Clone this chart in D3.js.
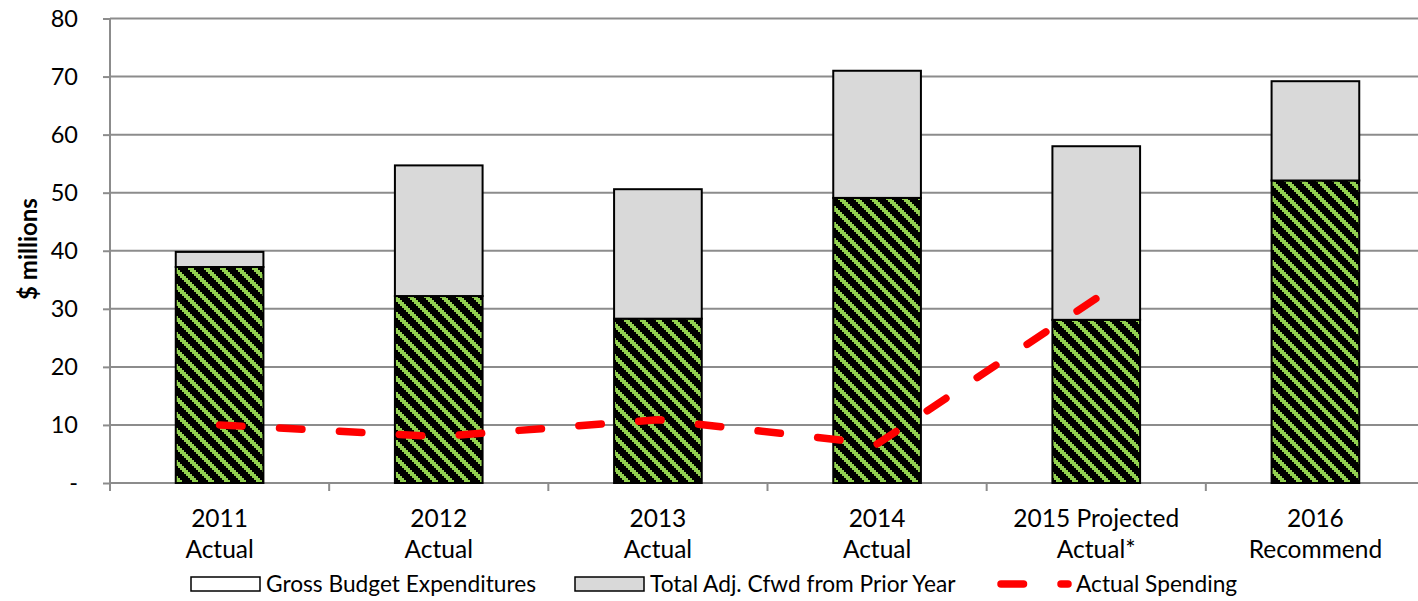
<!DOCTYPE html>
<html>
<head>
<meta charset="utf-8">
<script src="https://cdn.jsdelivr.net/npm/d3@7"></script>
<style>
  html, body { margin: 0; padding: 0; background: #fff; }
  svg { display: block; font-family: Lato, "Open Sans", sans-serif; }
</style>
</head>
<body>
<svg id="chart" width="1418" height="601"></svg>
<script>
// Fiscal years shown on the category axis (two lines each)
const yearLabels = ["2011", "2012", "2013", "2014", "2015 Projected", "2016"];
const yearSubLabels = ["Actual", "Actual", "Actual", "Actual", "Actual*", "Recommend"];
const categories = yearLabels.map((d, i) => d + " " + yearSubLabels[i]);

// $ millions
const grossBudget = [37.2, 32.2, 28.3, 49.1, 28.1, 52.1];
const carryForward = [2.6, 22.5, 22.3, 21.9, 29.9, 17.1];
const actualSpending = [10.0, 8.0, 10.9, 6.7, 31.8, null];

const yTicks = [0, 10, 20, 30, 40, 50, 60, 70, 80];
const seriesNames = ["Gross Budget Expenditures", "Total Adj. Cfwd from Prior Year", "Actual Spending"];

const svg = d3.select("#chart");
const plot = { left: 110, right: 1425, top: 18.5, bottom: 483 };

const x = d3.scaleBand()
  .domain(categories)
  .range([plot.left, plot.right])
  .paddingInner(0.6)
  .paddingOuter(0.3);

const y = d3.scaleLinear().domain([0, 80]).range([plot.bottom, plot.top]);

// Hatched fill: wide downward diagonal, green on black
const defs = svg.append("defs");
const pat = defs.append("pattern")
  .attr("id", "hatch")
  .attr("patternUnits", "userSpaceOnUse")
  .attr("width", 16).attr("height", 16);
pat.append("rect").attr("width", 16).attr("height", 16).attr("fill", "#000");
const cells = [];
for (let r = 0; r < 8; r++) {
  for (let k = 0; k < 3; k++) cells.push({ r, c: (r + k) % 8 });
}
pat.selectAll("rect.px").data(cells).join("rect")
  .attr("class", "px")
  .attr("x", d => d.c * 2).attr("y", d => d.r * 2)
  .attr("width", 2).attr("height", 2)
  .attr("fill", "#92d050")
  .attr("shape-rendering", "crispEdges");

// Horizontal gridlines
svg.append("g")
  .selectAll("line")
  .data(yTicks.filter(t => t > 0))
  .join("line")
  .attr("x1", plot.left).attr("x2", plot.right)
  .attr("y1", d => y(d)).attr("y2", d => y(d))
  .attr("stroke", "#8c8c8c").attr("stroke-width", 2);

// Y axis
const yAxis = svg.append("g")
  .attr("transform", `translate(${plot.left},0)`)
  .call(d3.axisLeft(y).tickValues(yTicks).tickSize(7).tickPadding(25)
    .tickFormat(d => d === 0 ? "-" : d));
yAxis.select(".domain").attr("stroke", "#8c8c8c").attr("stroke-width", 2)
  .attr("d", `M0,${plot.top}V${plot.bottom + 8}`);
yAxis.selectAll(".tick line").attr("stroke", "#8c8c8c").attr("stroke-width", 2);
yAxis.selectAll(".tick text").attr("font-size", 23.5).attr("fill", "#000")
  .attr("font-family", "Lato, sans-serif");

// X axis: tick marks at category boundaries
const step = x.step();
const boundaries = d3.range(categories.length + 1).map(i => plot.left + i * step);
svg.append("line")
  .attr("x1", plot.left).attr("x2", plot.right)
  .attr("y1", plot.bottom).attr("y2", plot.bottom)
  .attr("stroke", "#8c8c8c").attr("stroke-width", 2);
svg.append("g").selectAll("line").data(boundaries).join("line")
  .attr("x1", d => d).attr("x2", d => d)
  .attr("y1", plot.bottom).attr("y2", plot.bottom + 8)
  .attr("stroke", "#8c8c8c").attr("stroke-width", 2);

// Category labels
const xl = svg.append("g");
categories.forEach((c, i) => {
  const cx = x(c) + x.bandwidth() / 2;
  const t = xl.append("text").attr("text-anchor", "middle")
    .attr("font-size", 24.5).attr("fill", "#000");
  t.append("tspan").attr("x", cx).attr("y", 527).text(yearLabels[i]);
  t.append("tspan").attr("x", cx).attr("y", 558).text(yearSubLabels[i]);
});

// Stacked bars
const stackData = categories.map((c, i) => ({ cat: c, gross: grossBudget[i], cfwd: carryForward[i] }));
const stacked = d3.stack().keys(["gross", "cfwd"])(stackData);
const fills = { gross: "url(#hatch)", cfwd: "#d9d9d9" };

svg.append("g").selectAll("g").data(stacked).join("g")
  .attr("fill", d => fills[d.key])
  .selectAll("rect").data(d => d).join("rect")
  .attr("x", d => x(d.data.cat))
  .attr("y", d => y(d[1]))
  .attr("width", x.bandwidth())
  .attr("height", d => y(d[0]) - y(d[1]))
  .attr("stroke", "#000").attr("stroke-width", 2);

// Actual spending line
const line = d3.line()
  .defined(d => d.v != null)
  .x(d => x(d.cat) + x.bandwidth() / 2)
  .y(d => y(d.v));
svg.append("path")
  .datum(categories.map((c, i) => ({ cat: c, v: actualSpending[i] })))
  .attr("d", line)
  .attr("fill", "none")
  .attr("stroke", "#ff0000")
  .attr("stroke-width", 7.5)
  .attr("stroke-linecap", "round")
  .attr("stroke-linejoin", "round")
  .attr("stroke-dasharray", "22.5 37.5");

// Y axis title
svg.append("text")
  .attr("transform", "translate(37,249) rotate(-90)")
  .attr("text-anchor", "middle")
  .attr("font-size", 24).attr("font-weight", "bold")
  .text("$ millions");

// Legend
const lg = svg.append("g").attr("font-size", 22.7);
const legendY = 584;
lg.append("rect").attr("x", 191).attr("y", legendY - 7).attr("width", 69).attr("height", 14)
  .attr("fill", "#fff").attr("stroke", "#000").attr("stroke-width", 1.5);
lg.append("text").attr("x", 266).attr("y", legendY + 8).text(seriesNames[0]);
lg.append("rect").attr("x", 575).attr("y", legendY - 7).attr("width", 69).attr("height", 14)
  .attr("fill", "#d9d9d9").attr("stroke", "#000").attr("stroke-width", 1.5);
lg.append("text").attr("x", 650).attr("y", legendY + 8).text(seriesNames[1]);
lg.append("line").attr("x1", 1001).attr("x2", 1068).attr("y1", legendY).attr("y2", legendY)
  .attr("stroke", "#ff0000").attr("stroke-width", 7.5)
  .attr("stroke-linecap", "round").attr("stroke-dasharray", "22.5 37.5");
lg.append("text").attr("x", 1076).attr("y", legendY + 8).text(seriesNames[2]);
</script>
</body>
</html>
